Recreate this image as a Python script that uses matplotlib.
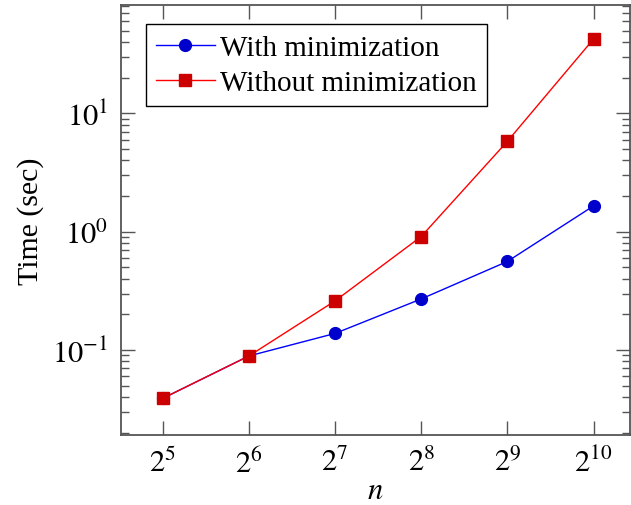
import math
import matplotlib
matplotlib.use("Agg")
import matplotlib.pyplot as plt
from matplotlib.ticker import LogLocator, FixedLocator, FuncFormatter, NullFormatter

# data
n_exp = [5, 6, 7, 8, 9, 10]
with_min = [0.039, 0.089, 0.138, 0.27, 0.56, 1.65]
without_min = [0.039, 0.089, 0.26, 0.91, 5.8, 42.5]

plt.rcParams['font.family'] = ['Liberation Serif', 'DejaVu Serif']
plt.rcParams['mathtext.fontset'] = 'stix'

fig = plt.figure(figsize=(6.31, 5.06), dpi=100)
ax = fig.add_axes([0.191, 0.138, 0.807, 0.850])

n = [2 ** e for e in n_exp]
ax.plot(n, with_min, color='#0000ff', lw=1.0, marker='o', ms=8.5,
        mfc='#0000cc', mec='#0000cc', label='With minimization')
ax.plot(n, without_min, color='#ff0000', lw=1.0, marker='s', ms=8.5,
        mfc='#cc0000', mec='#cc0000', label='Without minimization')

ax.set_xscale('log', base=2)
ax.set_yscale('log')
ax.set_xlim(2 ** 4.51, 2 ** 10.42)
ax.set_ylim(10 ** -1.72, 10 ** 1.915)

ax.xaxis.set_major_locator(FixedLocator(n))
ax.xaxis.set_major_formatter(FuncFormatter(lambda v, p: r'$2^{%d}$' % round(math.log2(v))))
ax.xaxis.set_minor_locator(FixedLocator([]))
ax.yaxis.set_major_locator(FixedLocator([0.1, 1, 10]))
ax.yaxis.set_major_formatter(FuncFormatter(lambda v, p: r'$10^{%d}$' % round(math.log10(v))))
ax.yaxis.set_minor_locator(LogLocator(base=10, subs=range(2, 10)))
ax.yaxis.set_minor_formatter(NullFormatter())

ax.tick_params(which='both', direction='in', top=True, right=True,
               color='#555555', width=1.0, labelsize=22, pad=9)
ax.tick_params(which='major', length=10)
ax.tick_params(which='minor', length=6)
for s in ax.spines.values():
    s.set_color('#555555')
    s.set_linewidth(1.3)

ax.set_xlabel(r'$n$', fontsize=22, labelpad=-2)
ax.set_ylabel('Time (sec)', fontsize=21.5, labelpad=6)

leg = ax.legend(loc='upper left', fontsize=21, frameon=True, fancybox=False,
                edgecolor='black', framealpha=1, borderpad=0.35,
                handlelength=2.0, handletextpad=0.2, labelspacing=0.3,
                borderaxespad=0.0, bbox_to_anchor=(0.05, 0.955))
leg.get_frame().set_linewidth(1.0)

fig.savefig('out.png', dpi=100)
